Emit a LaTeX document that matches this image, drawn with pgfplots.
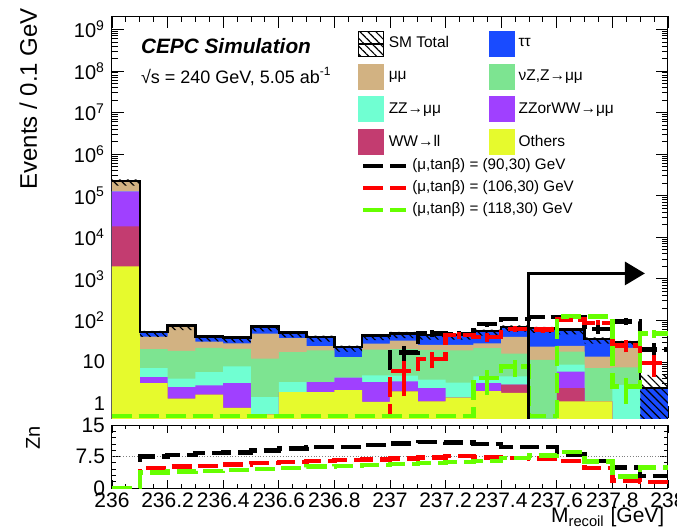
\documentclass[border=0pt]{standalone}
\usepackage{fontspec}
\setmainfont{Liberation Sans}
\usepackage{pgfplots}
\usepackage{pgfplotstable}
\pgfplotsset{compat=1.18}
\usetikzlibrary{patterns.meta,arrows.meta}

\definecolor{cblue}{RGB}{25,75,255}
\definecolor{ctan}{RGB}{210,178,130}
\definecolor{cgreen}{RGB}{125,228,145}
\definecolor{caqua}{RGB}{112,255,210}
\definecolor{cpurple}{RGB}{160,64,255}
\definecolor{ccrim}{RGB}{195,60,112}
\definecolor{cyel}{RGB}{230,250,45}
\definecolor{sred}{RGB}{255,0,0}
\definecolor{sgreen}{RGB}{102,255,0}

% cumulative tops of the stack (bottom to top: yel, crm, pur, aqu, grn, tan, blue=sm)
% first and last rows close the areas at the bottom of the axis
\pgfplotstableread{
x sm tan grn aqu pur crm yel
236.0 0.3 0.3 0.3 0.3 0.3 0.3 0.3
236.0 228000 228000 127000 127000 127000 18400 2000
236.1 52 41 20.4 7.1 4.36 3.1 3.1
236.2 76 76 18.5 4.0 2.5 1.32 1.32
236.3 41 31 22 5.7 2.74 1.64 1.64
236.4 38.5 28 20.7 7.8 3.1 0.79 0.79
236.5 71 48 12 1.44 0.55 0.55 0.55
236.6 51 37.5 17.3 3.3 1.9 1.9 1.9
236.7 40 24 19 3.3 3.3 1.9 1.9
236.8 23 13.1 13.1 4.2 4.2 2.1 2.1
236.9 43.6 27.5 19.8 4.8 3.3 1.1 1.1
237.0 49 32.7 20.4 4.7 3.4 1.97 1.97
237.1 44.7 25.8 19.6 3.75 2.37 1.13 1.13
237.2 44.7 25.8 19 3.2 1.4 1.4 1.4
237.3 56 28 21.5 4.5 3.1 2.0 2.0
237.4 70 40 16 4.5 2.85 2.85 1.8
237.5 65 23.5 11.3 0.4 0.4 0.4 0.4
237.6 60 24.4 17.8 8.6 5.9 2.37 1.13
237.7 36 13.5 7.1 1.13 1.13 1.13 1.13
237.8 30 22 7.4 2.8 0.4 0.4 0.4
237.9 2.37 0.4 0.4 0.4 0.4 0.4 0.4
238.0 2.37 0.4 0.4 0.4 0.4 0.4 0.4
238.0 0.3 0.3 0.3 0.3 0.3 0.3 0.3
}\stack

\pgfplotstableread{
x bk rd gr
236.0 0.5 0.5 0.5
236.1 0.5 0.5 0.5
236.2 0.5 0.5 0.5
236.3 0.5 0.5 0.5
236.4 0.5 0.5 0.5
236.5 0.5 0.5 0.5
236.6 0.5 0.5 0.5
236.7 0.5 0.5 0.5
236.8 0.5 0.5 0.5
236.9 0.5 0.5 0.5
237.0 17 6 0.5
237.1 50 12 0.5
237.2 47 44 0.5
237.3 82 40 4.1
237.4 110 62 7.8
237.5 122 60 0.5
237.6 120 105 125
237.7 62 88 125
237.8 95 25 2.6
237.9 20 9.4 48
238.0 20 9.4 48
}\sig

\pgfplotstableread{
x bk rd gr
236.0 0 0 0
236.1 7.5 4.7 3.7
236.2 7.9 5.1 3.9
236.3 8.3 5.3 4.0
236.4 8.5 5.6 4.3
236.5 8.9 5.9 4.5
236.6 9.4 6.2 4.8
236.7 9.7 6.4 5.1
236.8 9.8 6.7 5.3
236.9 10.2 6.8 5.5
237.0 10.6 7.0 5.7
237.1 11.0 7.3 6.0
237.2 10.8 7.6 6.2
237.3 10.5 7.3 6.5
237.4 9.8 7.2 7.2
237.5 9.7 7.0 7.7
237.6 8.0 6.5 8.6
237.7 6.4 4.8 6.3
237.8 4.9 1.75 2.7
237.9 2.9 1.5 4.9
238.0 2.9 1.5 4.9
}\zn

\tikzset{sigline/.style={line width=2.2pt, dash pattern=on 10pt off 3.5pt}}

\begin{document}
\begin{tikzpicture}
\useasboundingbox (0pt,0pt) rectangle (338.5pt,-263.5pt);

% ---------------- top panel ----------------
\begin{axis}[
  at={(56pt,-209pt)}, anchor=south west,
  scale only axis, width=278pt, height=201pt,
  xmin=236, xmax=238, ymode=log, ymin=0.45, ymax=2.1e9,
  axis line style={line width=0.5pt},
  xtick={236,236.2,236.4,236.6,236.8,237,237.2,237.4,237.6,237.8,238},
  xticklabels={}, minor x tick num=3,
  ytick={1,10,100,1e3,1e4,1e5,1e6,1e7,1e8,1e9},
  yticklabels={1,10,10\textsuperscript{2},10\textsuperscript{3},10\textsuperscript{4},10\textsuperscript{5},10\textsuperscript{6},10\textsuperscript{7},10\textsuperscript{8},10\textsuperscript{9}},
  minor ytick={0.5,0.6,0.7,0.8,0.9,2,3,4,5,6,7,8,9,20,30,40,50,60,70,80,90,200,300,400,500,600,700,800,900,2e3,3e3,4e3,5e3,6e3,7e3,8e3,9e3,2e4,3e4,4e4,5e4,6e4,7e4,8e4,9e4,2e5,3e5,4e5,5e5,6e5,7e5,8e5,9e5,2e6,3e6,4e6,5e6,6e6,7e6,8e6,9e6,2e7,3e7,4e7,5e7,6e7,7e7,8e7,9e7,2e8,3e8,4e8,5e8,6e8,7e8,8e8,9e8,2e9},
  major tick length=6pt, minor tick length=3pt,
  tick style={black, line width=0.4pt},
  tick label style={font=\fontsize{10}{12}\selectfont},
  /pgf/number format/assume math mode=true,
  ylabel={Events / 0.1 GeV},
  ylabel style={font=\fontsize{12}{14}\selectfont, at={(axis description cs:-0.122,1.037)}, anchor=south east},
  legend style={at={(0.447,0.656)}, anchor=north west, draw=none, fill=none,
    font=\fontsize{7.6}{9}\selectfont, row sep=0pt, inner sep=0pt,
    nodes={inner sep=2pt}},
  legend cell align=left,
  legend image code/.code={\draw[#1] (0pt,0pt) -- (21.5pt,0pt);},
  ebk/.style={black, line width=2pt, forget plot},
  erd/.style={sred, line width=2pt, forget plot},
  egr/.style={sgreen, line width=2pt, forget plot},
]
% stacked backgrounds (cumulative tops, drawn from top layer down)
\addplot[fill=cblue, draw=none, const plot, forget plot] table[x=x,y=sm]{\stack};
\addplot[fill=ctan, draw=none, const plot, forget plot] table[x=x,y=tan]{\stack};
\addplot[fill=cgreen, draw=none, const plot, forget plot] table[x=x,y=grn]{\stack};
\addplot[fill=caqua, draw=none, const plot, forget plot] table[x=x,y=aqu]{\stack};
\addplot[fill=cpurple, draw=none, const plot, forget plot] table[x=x,y=pur]{\stack};
\addplot[fill=ccrim, draw=none, const plot, forget plot] table[x=x,y=crm]{\stack};
\addplot[fill=cyel, draw=none, const plot, forget plot] table[x=x,y=yel]{\stack};
% SM uncertainty band (hatched)
\addplot[pattern={Lines[angle=-45,distance=2.8pt,line width=0.6pt]}, pattern color=black, draw=none, forget plot] coordinates {
(236,246000)(236.1,246000)(236.1,56)(236.2,56)(236.2,82)(236.3,82)(236.3,44.3)(236.4,44.3)(236.4,41.6)(236.5,41.6)(236.5,76.7)(236.6,76.7)(236.6,55)(236.7,55)(236.7,43.2)(236.8,43.2)(236.8,24.8)(236.9,24.8)(236.9,47.1)(237,47.1)(237,52.9)(237.1,52.9)(237.1,48.3)(237.2,48.3)(237.3,48.3)(237.3,60.5)(237.4,60.5)(237.4,75.6)(237.5,75.6)(237.5,70.2)(237.6,70.2)(237.6,64.8)(237.7,64.8)(237.7,38.9)(237.8,38.9)(237.8,32.4)(237.9,32.4)(237.9,4.9)(238,4.9)
(238,0.3)(237.9,0.3)(237.9,23.1)(237.8,23.1)(237.8,27.7)(237.7,27.7)(237.7,46.2)(237.6,46.2)(237.6,50)(237.5,50)(237.5,53.8)(237.4,53.8)(237.4,43.1)(237.3,43.1)(237.3,34.4)(237.1,34.4)(237.1,37.7)(237,37.7)(237,33.5)(236.9,33.5)(236.9,17.7)(236.8,17.7)(236.8,30.8)(236.7,30.8)(236.7,39.2)(236.6,39.2)(236.6,54.6)(236.5,54.6)(236.5,29.6)(236.4,29.6)(236.4,31.5)(236.3,31.5)(236.3,58.5)(236.2,58.5)(236.2,40)(236.1,40)(236.1,175000)(236,175000)};
% SM total line
\addplot[black, line width=1.2pt, const plot, forget plot, skip coords between index={0}{1}, skip coords between index={22}{23}] table[x=x,y=sm]{\stack};
% signals
\addplot[black, sigline, const plot] table[x=x,y=bk]{\sig};
\addlegendentry{(μ,tanβ) = (90,30) GeV}
\addplot[sred, sigline, const plot] table[x=x,y=rd]{\sig};
\addlegendentry{(μ,tanβ) = (106,30) GeV}
\addplot[sgreen, sigline, const plot] table[x=x,y=gr]{\sig};
\addlegendentry{(μ,tanβ) = (118,30) GeV}
% signal error bars
\addplot[ebk] coordinates {(237.05,10)(237.05,24)};
\addplot[ebk] coordinates {(237.15,40)(237.15,60)};
\addplot[ebk] coordinates {(237.25,38)(237.25,56)};
\addplot[ebk] coordinates {(237.35,70)(237.35,94)};
\addplot[ebk] coordinates {(237.45,96)(237.45,124)};
\addplot[ebk] coordinates {(237.55,107)(237.55,137)};
\addplot[ebk] coordinates {(237.65,106)(237.65,134)};
\addplot[ebk] coordinates {(237.75,48)(237.75,76)};
\addplot[ebk] coordinates {(237.85,77)(237.85,113)};
\addplot[ebk] coordinates {(237.95,12)(237.95,28)};
\addplot[erd] coordinates {(237.05,1.5)(237.05,10.5)};
\addplot[erd] coordinates {(237.15,7)(237.15,17)};
\addplot[erd] coordinates {(237.25,35)(237.25,53)};
\addplot[erd] coordinates {(237.35,31)(237.35,49)};
\addplot[erd] coordinates {(237.45,52)(237.45,72)};
\addplot[erd] coordinates {(237.55,50)(237.55,70)};
\addplot[erd] coordinates {(237.65,93)(237.65,117)};
\addplot[erd] coordinates {(237.75,76)(237.75,100)};
\addplot[erd] coordinates {(237.85,17)(237.85,33)};
\addplot[erd] coordinates {(237.95,4.4)(237.95,14.4)};
\addplot[egr] coordinates {(237.35,1.6)(237.35,6.6)};
\addplot[egr] coordinates {(237.45,4.3)(237.45,11.3)};
\addplot[egr] coordinates {(237.65,113)(237.65,137)};
\addplot[egr] coordinates {(237.75,113)(237.75,137)};
\addplot[egr] coordinates {(237.85,1.0)(237.85,4.2)};
\addplot[egr] coordinates {(237.95,38)(237.95,58)};
% cut arrow
\addplot[black, line width=1.5pt, -{Triangle[length=10pt,width=11.5pt]}, forget plot] coordinates {(237.5,0.3) (237.5,1350) (237.917,1350)};
\end{axis}

% legend for the stacked backgrounds (legend images only)
\begin{axis}[
  at={(56pt,-209pt)}, anchor=south west,
  scale only axis, width=278pt, height=201pt,
  hide axis, xmin=0, xmax=1, ymin=0, ymax=1,
  legend columns=2,
  legend style={at={(0.4406,0.964)}, anchor=north west, draw=none, fill=none,
    font=\fontsize{7.75}{9}\selectfont, row sep=3.5pt, inner sep=0pt,
    nodes={inner sep=2pt}},
  legend cell align=left,
]
\addplot[draw=none, forget plot] coordinates {(0,0) (1,1)};
\addlegendimage{legend image code/.code={\fill[pattern={Lines[angle=-45,distance=2.8pt,line width=0.6pt]}, pattern color=black] (0pt,-6.25pt) rectangle (12.5pt,6.25pt); \draw[line width=1.2pt] (0pt,0pt) -- (12.5pt,0pt);}}
\addlegendentry{\makebox[48pt][l]{SM Total}}
\addlegendimage{legend image code/.code={\fill[cblue] (0pt,-6.25pt) rectangle (12.5pt,6.25pt);}}
\addlegendentry{ττ}
\addlegendimage{legend image code/.code={\fill[ctan] (0pt,-6.25pt) rectangle (12.5pt,6.25pt);}}
\addlegendentry{\makebox[48pt][l]{μμ}}
\addlegendimage{legend image code/.code={\fill[cgreen] (0pt,-6.25pt) rectangle (12.5pt,6.25pt);}}
\addlegendentry{νZ,Z→μμ}
\addlegendimage{legend image code/.code={\fill[caqua] (0pt,-6.25pt) rectangle (12.5pt,6.25pt);}}
\addlegendentry{\makebox[48pt][l]{ZZ→μμ}}
\addlegendimage{legend image code/.code={\fill[cpurple] (0pt,-6.25pt) rectangle (12.5pt,6.25pt);}}
\addlegendentry{ZZorWW→μμ}
\addlegendimage{legend image code/.code={\fill[ccrim] (0pt,-6.25pt) rectangle (12.5pt,6.25pt);}}
\addlegendentry{\makebox[48pt][l]{WW→ll}}
\addlegendimage{legend image code/.code={\fill[cyel] (0pt,-6.25pt) rectangle (12.5pt,6.25pt);}}
\addlegendentry{Others}
\end{axis}

\node[anchor=base west, font=\fontsize{10.4}{12}\selectfont\bfseries\itshape] at (67pt,-26.5pt) {CEPC Simulation};
\node[anchor=base west, font=\fontsize{9}{11}\selectfont] at (67pt,-41.5pt) {√s = 240 GeV, 5.05 ab\textsuperscript{-1}};

% ---------------- bottom panel ----------------
\begin{axis}[
  at={(56pt,-244pt)}, anchor=south west,
  scale only axis, width=278pt, height=31.5pt,
  xmin=236, xmax=238, ymin=0, ymax=15,
  axis line style={line width=0.5pt},
  xtick={236,236.2,236.4,236.6,236.8,237,237.2,237.4,237.6,237.8,238},
  xticklabels={236,236.2,236.4,236.6,236.8,237,237.2,237.4,237.6,237.8,238},
  minor x tick num=3,
  ytick={0,7.5,15}, yticklabels={0,7.5,15}, minor y tick num=4,
  major tick length=4pt, minor tick length=2pt,
  tick style={black, line width=0.4pt},
  tick label style={font=\fontsize{10.5}{12}\selectfont},
  xticklabel style={yshift=1pt},
  /pgf/number format/assume math mode=true,
  ylabel={Zn},
  ylabel style={font=\fontsize{10}{12}\selectfont, at={(axis description cs:-0.117,0.80)}},
  xlabel={M\textsubscript{recoil} [GeV]},
  xlabel style={font=\fontsize{10.5}{12}\selectfont, at={(axis description cs:1.006,-0.2)}, anchor=north east},
]
\addplot[gray, densely dotted, line width=0.4pt, forget plot] coordinates {(236,7.5) (238,7.5)};
\addplot[black, sigline, const plot] table[x=x,y=bk]{\zn};
\addplot[sred, sigline, const plot] table[x=x,y=rd]{\zn};
\addplot[sgreen, sigline, const plot] table[x=x,y=gr]{\zn};
\end{axis}
\end{tikzpicture}
\end{document}
